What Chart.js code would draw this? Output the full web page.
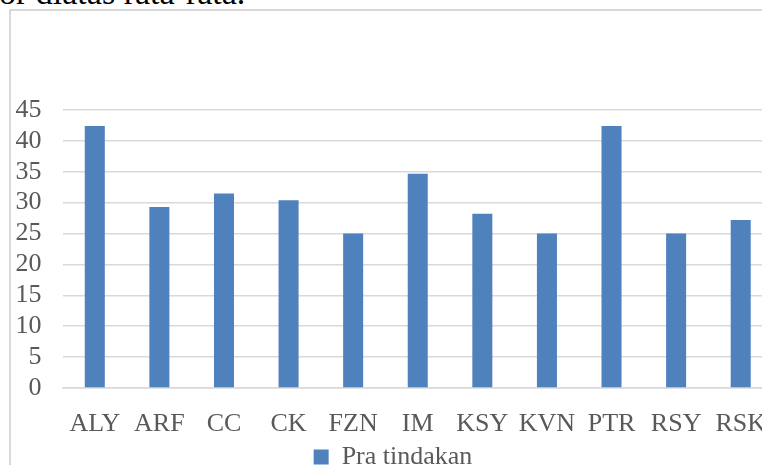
<!DOCTYPE html>
<html>
<head>
<meta charset="utf-8">
<script src="https://cdn.jsdelivr.net/npm/chart.js@4"></script>
<style>
  html, body { margin: 0; padding: 0; background: #fff; overflow: hidden; width: 762px; height: 465px; }
  .lead {
    position: absolute; left: -18px; top: -24px;
    font-family: "Liberation Serif", "Times New Roman", serif;
    font-size: 34px; line-height: 34px; color: #000; white-space: nowrap;
  }
  .frame {
    position: absolute; left: 9px; top: 9px; width: 790px; height: 480px;
    border: 2px solid #d9d9d9; box-sizing: border-box;
  }
  .wrap { position: absolute; left: 11px; top: 11px; width: 780px; height: 470px; }
</style>
</head>
<body>
<div class="lead">kor diatas rata-rata.</div>
<div class="frame"></div>
<div class="wrap"><canvas id="grafik"></canvas></div>
<script>
const kategori = ['ALY', 'ARF', 'CC', 'CK', 'FZN', 'IM', 'KSY', 'KVN', 'PTR', 'RSY', 'RSK'];
const praTindakan = [42.4, 29.3, 31.5, 30.4, 25, 34.7, 28.2, 25, 42.4, 25, 27.2];
const tickY = [0, 5, 10, 15, 20, 25, 30, 35, 40, 45];

const abu = '#595959';
const huruf = { family: '"Liberation Serif", "Times New Roman", serif', size: 26 };

new Chart(document.getElementById('grafik'), {
  type: 'bar',
  data: {
    labels: kategori,
    datasets: [{
      label: 'Pra tindakan',
      data: praTindakan,
      backgroundColor: '#4f81bd',
      barPercentage: 0.31,
      categoryPercentage: 1
    }]
  },
  options: {
    responsive: true,
    maintainAspectRatio: false,
    animation: false,
    layout: { padding: { left: 2, right: 18, top: 99, bottom: 1 } },
    plugins: {
      legend: {
        position: 'bottom',
        labels: {
          color: abu, font: huruf, boxWidth: 15, boxHeight: 15, padding: 6
        }
      },
      tooltip: { enabled: false }
    },
    scales: {
      x: {
        afterFit: ax => { ax.height = 50; },
        grid: { display: false },
        border: { color: '#d9d9d9', width: 1.5 },
        ticks: { color: abu, font: huruf, padding: 13, maxRotation: 0, autoSkip: false }
      },
      y: {
        min: 0,
        max: 45,
        afterFit: ax => { ax.width = 49.5; },
        afterBuildTicks: ax => { ax.ticks = tickY.map(v => ({ value: v })); },
        grid: { color: '#d9d9d9', lineWidth: 1.5, drawTicks: false },
        border: { display: false },
        ticks: { color: abu, font: huruf, padding: 21, autoSkip: false }
      }
    }
  }
});
</script>
</body>
</html>
